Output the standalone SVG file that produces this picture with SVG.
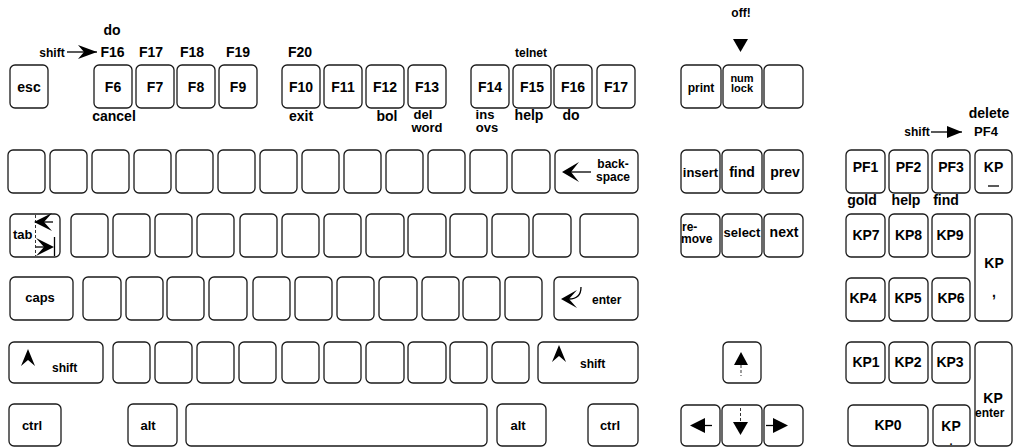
<svg xmlns="http://www.w3.org/2000/svg" width="1019" height="447" viewBox="0 0 1019 447">
<style>
.k{fill:#fff;stroke:#1a1a1a;stroke-width:1.3}
.t{font-family:"Liberation Sans",Arial,Helvetica,sans-serif;font-weight:bold;font-size:14px;fill:#000;text-anchor:middle}
.st{text-anchor:start}
.f11{font-size:11px}.f12{font-size:12px}.f13{font-size:13px}
.g{fill:#000;stroke:none}
.ln{stroke:#000;stroke-width:1.3;fill:none}
.dl{stroke:#000;stroke-width:0.8;fill:none;stroke-dasharray:3 2}
</style>
<defs>
<marker id="chev" markerUnits="userSpaceOnUse" markerWidth="20" markerHeight="14" refX="19" refY="7" orient="auto"><path d="M0,0 L19,7 L0,14 L6,7 Z" fill="#000"/></marker>
<marker id="tri" markerUnits="userSpaceOnUse" markerWidth="16" markerHeight="12" refX="15" refY="6" orient="auto"><path d="M0,0 L15,6 L0,12 Z" fill="#000"/></marker>
</defs>
<rect width="1019" height="447" fill="#fff"/>

<g id="connectors">
<line x1="67" y1="52" x2="97" y2="52" class="ln" stroke-width="1.6" marker-end="url(#chev)"/>
<polygon points="733,39 748,39 740.5,52" class="g"/>
<line x1="931" y1="132" x2="962" y2="132" class="ln" stroke-width="1" marker-end="url(#tri)"/>
</g>

<g id="annotations">
<text x="52" y="57" class="t f12">shift</text>
<text x="741" y="17" class="t f12">off!</text>
<text x="989" y="118" class="t">delete</text>
<text x="917" y="136" class="t f12">shift</text>
<text x="986" y="136" class="t f13">PF4</text>
</g>

<!-- Row 1 -->
<g id="k-esc"><rect class="k" x="10" y="65" width="38" height="43" rx="5"/><text x="29" y="92" class="t">esc</text></g>
<g id="k-f6"><rect class="k" x="94" y="65" width="38" height="43" rx="5"/><text x="113" y="92" class="t">F6</text><text x="112" y="35" class="t">do</text><text x="112.5" y="57" class="t">F16</text><text x="114" y="121" class="t">cancel</text></g>
<g id="k-f7"><rect class="k" x="136" y="65" width="38" height="43" rx="5"/><text x="155" y="92" class="t">F7</text><text x="151" y="57" class="t">F17</text></g>
<g id="k-f8"><rect class="k" x="177" y="65" width="38" height="43" rx="5"/><text x="196" y="92" class="t">F8</text><text x="192" y="57" class="t">F18</text></g>
<g id="k-f9"><rect class="k" x="219" y="65" width="38" height="43" rx="5"/><text x="238" y="92" class="t">F9</text><text x="238" y="57" class="t">F19</text></g>
<g id="k-f10"><rect class="k" x="282" y="65" width="38" height="43" rx="5"/><text x="301" y="92" class="t">F10</text><text x="300" y="57" class="t">F20</text><text x="301" y="121" class="t">exit</text></g>
<g id="k-f11"><rect class="k" x="324" y="65" width="38" height="43" rx="5"/><text x="343" y="92" class="t">F11</text></g>
<g id="k-f12"><rect class="k" x="366" y="65" width="38" height="43" rx="5"/><text x="385" y="92" class="t">F12</text><text x="387" y="121" class="t">bol</text></g>
<g id="k-f13"><rect class="k" x="408" y="65" width="38" height="43" rx="5"/><text x="423" y="119" class="t f13">del</text><text x="427" y="132" class="t f13">word</text><text x="427" y="92" class="t">F13</text></g>
<g id="k-f14"><rect class="k" x="471" y="65" width="38" height="43" rx="5"/><text x="490" y="92" class="t">F14</text><text x="485" y="119" class="t f13">ins</text><text x="487" y="132" class="t f13">ovs</text></g>
<g id="k-f15"><rect class="k" x="513" y="65" width="38" height="43" rx="5"/><text x="532" y="92" class="t">F15</text><text x="531" y="57" class="t f12">telnet</text><text x="529" y="120" class="t">help</text></g>
<g id="k-f16"><rect class="k" x="554" y="65" width="38" height="43" rx="5"/><text x="573" y="92" class="t">F16</text><text x="571" y="120" class="t">do</text></g>
<g id="k-f17"><rect class="k" x="597" y="65" width="38" height="43" rx="5"/><text x="616" y="92" class="t">F17</text></g>
<g id="k-print"><rect class="k" x="681" y="65" width="40" height="43" rx="5"/><text x="701" y="92" class="t f12">print</text></g>
<g id="k-numlock"><rect class="k" x="723" y="65" width="39" height="43" rx="5"/><text x="742" y="82" class="t f11">num</text><text x="742" y="92" class="t f11">lock</text></g>
<g id="k-blank1"><rect class="k" x="764" y="65" width="39" height="43" rx="5"/></g>

<!-- Row 2 -->
<g id="k-r2-1"><rect class="k" x="8" y="150" width="37" height="43" rx="5"/></g>
<g id="k-r2-2"><rect class="k" x="50" y="150" width="37" height="43" rx="5"/></g>
<g id="k-r2-3"><rect class="k" x="92" y="150" width="37" height="43" rx="5"/></g>
<g id="k-r2-4"><rect class="k" x="134" y="150" width="37" height="43" rx="5"/></g>
<g id="k-r2-5"><rect class="k" x="176" y="150" width="37" height="43" rx="5"/></g>
<g id="k-r2-6"><rect class="k" x="218" y="150" width="37" height="43" rx="5"/></g>
<g id="k-r2-7"><rect class="k" x="260" y="150" width="37" height="43" rx="5"/></g>
<g id="k-r2-8"><rect class="k" x="302" y="150" width="37" height="43" rx="5"/></g>
<g id="k-r2-9"><rect class="k" x="344" y="150" width="37" height="43" rx="5"/></g>
<g id="k-r2-10"><rect class="k" x="386" y="150" width="37" height="43" rx="5"/></g>
<g id="k-r2-11"><rect class="k" x="428" y="150" width="37" height="43" rx="5"/></g>
<g id="k-r2-12"><rect class="k" x="470" y="150" width="37" height="43" rx="5"/></g>
<g id="k-r2-13"><rect class="k" x="512" y="150" width="38" height="43" rx="5"/></g>
<g id="k-backspace"><rect class="k" x="555" y="150" width="83" height="43" rx="5"/><line x1="568" y1="172" x2="591" y2="172" class="ln" stroke-width="1.6"/><path d="M562,172 L579,162 L571,172 L579,182 Z" class="g"/><text x="613" y="168" class="t f12">back-</text><text x="613" y="181" class="t f12">space</text></g>
<g id="k-insert"><rect class="k" x="681" y="150" width="39" height="43" rx="5"/><text x="700.5" y="177" class="t f13">insert</text></g>
<g id="k-find"><rect class="k" x="722" y="150" width="40" height="43" rx="5"/><text x="742" y="177" class="t">find</text></g>
<g id="k-prev"><rect class="k" x="764" y="150" width="39" height="43" rx="5"/><text x="785" y="177" class="t">prev</text></g>
<g id="k-pf1"><rect class="k" x="846" y="150" width="39" height="43" rx="5"/><text x="865.5" y="172" class="t">PF1</text><text x="862" y="205" class="t">gold</text></g>
<g id="k-pf2"><rect class="k" x="889" y="150" width="39" height="43" rx="5"/><text x="908.5" y="172" class="t">PF2</text><text x="906" y="205" class="t">help</text></g>
<g id="k-pf3"><rect class="k" x="932" y="150" width="38" height="43" rx="5"/><text x="951" y="172" class="t">PF3</text><text x="946" y="205" class="t">find</text></g>
<g id="k-kpminus"><rect class="k" x="975" y="150" width="37" height="43" rx="5"/><text x="993.5" y="172" class="t">KP</text><line x1="988" y1="186" x2="999" y2="186" class="ln" stroke-width="1.6"/></g>

<!-- Row 3 -->
<g id="k-tab"><rect class="k" x="10" y="214" width="50" height="43" rx="5"/><text x="13" y="239" class="t f13 st">tab</text><line x1="35.5" y1="215" x2="35.5" y2="256" class="dl"/><line x1="40" y1="222" x2="53" y2="222" class="ln"/><path d="M34,222 L52,213 L44,222 L52,231 Z" class="g"/><line x1="36" y1="247" x2="48" y2="247" class="ln"/><path d="M54,247 L36,238 L44,247 L36,256 Z" class="g"/><line x1="54.5" y1="237" x2="54.5" y2="256" class="ln" stroke-width="1"/></g>
<g id="k-r3-1"><rect class="k" x="71" y="214" width="37" height="43" rx="5"/></g>
<g id="k-r3-2"><rect class="k" x="113" y="214" width="37" height="43" rx="5"/></g>
<g id="k-r3-3"><rect class="k" x="155" y="214" width="37" height="43" rx="5"/></g>
<g id="k-r3-4"><rect class="k" x="197" y="214" width="37" height="43" rx="5"/></g>
<g id="k-r3-5"><rect class="k" x="240" y="214" width="37" height="43" rx="5"/></g>
<g id="k-r3-6"><rect class="k" x="282" y="214" width="37" height="43" rx="5"/></g>
<g id="k-r3-7"><rect class="k" x="324" y="214" width="37" height="43" rx="5"/></g>
<g id="k-r3-8"><rect class="k" x="366" y="214" width="38" height="43" rx="5"/></g>
<g id="k-r3-9"><rect class="k" x="408" y="214" width="38" height="43" rx="5"/></g>
<g id="k-r3-10"><rect class="k" x="450" y="214" width="37" height="43" rx="5"/></g>
<g id="k-r3-11"><rect class="k" x="492" y="214" width="37" height="43" rx="5"/></g>
<g id="k-r3-12"><rect class="k" x="533" y="214" width="38" height="43" rx="5"/></g>
<g id="k-r3-13"><rect class="k" x="580" y="214" width="58" height="43" rx="5"/></g>
<g id="k-remove"><rect class="k" x="681" y="214" width="39" height="43" rx="5"/><text x="682" y="231" class="t f12 st">re-</text><text x="681" y="243" class="t f12 st">move</text></g>
<g id="k-select"><rect class="k" x="722" y="214" width="40" height="43" rx="5"/><text x="742" y="237" class="t f13">select</text></g>
<g id="k-next"><rect class="k" x="764" y="214" width="39" height="43" rx="5"/><text x="784" y="237" class="t">next</text></g>
<g id="k-kp7"><rect class="k" x="846" y="214" width="39" height="43" rx="5"/><text x="866" y="240" class="t">KP7</text></g>
<g id="k-kp8"><rect class="k" x="889" y="214" width="39" height="43" rx="5"/><text x="908.5" y="240" class="t">KP8</text></g>
<g id="k-kp9"><rect class="k" x="932" y="214" width="38" height="43" rx="5"/><text x="950" y="240" class="t">KP9</text></g>
<g id="k-kpcomma"><rect class="k" x="975" y="214" width="37" height="107" rx="5"/><text x="994" y="268" class="t">KP</text><text x="994" y="297" class="t">,</text></g>

<!-- Row 4 -->
<g id="k-caps"><rect class="k" x="10" y="277" width="63" height="43" rx="5"/><text x="40" y="302" class="t f13">caps</text></g>
<g id="k-r4-1"><rect class="k" x="83" y="277" width="38" height="43" rx="5"/></g>
<g id="k-r4-2"><rect class="k" x="126" y="277" width="37" height="43" rx="5"/></g>
<g id="k-r4-3"><rect class="k" x="167" y="277" width="37" height="43" rx="5"/></g>
<g id="k-r4-4"><rect class="k" x="209" y="277" width="38" height="43" rx="5"/></g>
<g id="k-r4-5"><rect class="k" x="253" y="277" width="37" height="43" rx="5"/></g>
<g id="k-r4-6"><rect class="k" x="295" y="277" width="37" height="43" rx="5"/></g>
<g id="k-r4-7"><rect class="k" x="337" y="277" width="37" height="43" rx="5"/></g>
<g id="k-r4-8"><rect class="k" x="379" y="277" width="38" height="43" rx="5"/></g>
<g id="k-r4-9"><rect class="k" x="422" y="277" width="37" height="43" rx="5"/></g>
<g id="k-r4-10"><rect class="k" x="463" y="277" width="37" height="43" rx="5"/></g>
<g id="k-r4-11"><rect class="k" x="505" y="277" width="37" height="43" rx="5"/></g>
<g id="k-enter"><rect class="k" x="554" y="277" width="84" height="43" rx="5"/><path d="M561,299 L577,290 L569,299 L577,308 Z" class="g"/><path d="M569,299 C577,299 581,295 581,287" class="ln" stroke-width="1.4"/><text x="592" y="304" class="t f12 st">enter</text></g>
<g id="k-kp4"><rect class="k" x="846" y="278" width="39" height="43" rx="5"/><text x="863" y="303" class="t">KP4</text></g>
<g id="k-kp5"><rect class="k" x="889" y="278" width="39" height="43" rx="5"/><text x="908" y="303" class="t">KP5</text></g>
<g id="k-kp6"><rect class="k" x="932" y="278" width="38" height="43" rx="5"/><text x="951" y="303" class="t">KP6</text></g>

<!-- Row 5 -->
<g id="k-lshift"><rect class="k" x="9" y="342" width="94" height="41" rx="5"/><path d="M28,349 L35,366 L28,360 L21,366 Z" class="g"/><text x="52" y="372" class="t f12 st">shift</text></g>
<g id="k-r5-1"><rect class="k" x="113" y="342" width="37" height="41" rx="5"/></g>
<g id="k-r5-2"><rect class="k" x="155" y="342" width="37" height="41" rx="5"/></g>
<g id="k-r5-3"><rect class="k" x="197" y="342" width="37" height="41" rx="5"/></g>
<g id="k-r5-4"><rect class="k" x="239" y="342" width="37" height="41" rx="5"/></g>
<g id="k-r5-5"><rect class="k" x="282" y="342" width="37" height="41" rx="5"/></g>
<g id="k-r5-6"><rect class="k" x="324" y="342" width="37" height="41" rx="5"/></g>
<g id="k-r5-7"><rect class="k" x="366" y="342" width="38" height="41" rx="5"/></g>
<g id="k-r5-8"><rect class="k" x="408" y="342" width="38" height="41" rx="5"/></g>
<g id="k-r5-9"><rect class="k" x="450" y="342" width="37" height="41" rx="5"/></g>
<g id="k-r5-10"><rect class="k" x="492" y="342" width="37" height="41" rx="5"/></g>
<g id="k-rshift"><rect class="k" x="538" y="342" width="100" height="41" rx="5"/><path d="M559,345 L566,362 L559,356 L552,362 Z" class="g"/><text x="580" y="368" class="t f12 st">shift</text></g>
<g id="k-up"><rect class="k" x="723" y="342" width="38" height="41" rx="5"/><polygon points="741,352 748,365 734,365" class="g"/><line x1="741" y1="365" x2="741" y2="376" class="dl"/></g>
<g id="k-kp1"><rect class="k" x="846" y="342" width="39" height="41" rx="5"/><text x="866" y="367" class="t">KP1</text></g>
<g id="k-kp2"><rect class="k" x="889" y="342" width="39" height="41" rx="5"/><text x="908" y="367" class="t">KP2</text></g>
<g id="k-kp3"><rect class="k" x="932" y="342" width="38" height="41" rx="5"/><text x="950" y="367" class="t">KP3</text></g>
<g id="k-kpenter"><rect class="k" x="975" y="342" width="37" height="104" rx="5"/><text x="993" y="403" class="t">KP</text><text x="975" y="417" class="t f12 st">enter</text></g>

<!-- Row 6 -->
<g id="k-lctrl"><rect class="k" x="9" y="404" width="52" height="42" rx="5"/><text x="32" y="430" class="t f13">ctrl</text></g>
<g id="k-lalt"><rect class="k" x="128" y="404" width="49" height="42" rx="5"/><text x="148" y="430" class="t f13">alt</text></g>
<g id="k-space"><rect class="k" x="186" y="404" width="301" height="42" rx="5"/></g>
<g id="k-ralt"><rect class="k" x="497" y="404" width="49" height="42" rx="5"/><text x="518" y="430" class="t f13">alt</text></g>
<g id="k-rctrl"><rect class="k" x="588" y="404" width="50" height="42" rx="5"/><text x="610" y="430" class="t f13">ctrl</text></g>
<g id="k-left"><rect class="k" x="681" y="405" width="39" height="41" rx="5"/><polygon points="690,425.5 705,418 705,433" class="g"/><line x1="705" y1="425.5" x2="712" y2="425.5" class="ln" stroke-width="1"/></g>
<g id="k-down"><rect class="k" x="722" y="405" width="40" height="41" rx="5"/><polygon points="733,422 748,422 740.5,435" class="g"/><line x1="740.5" y1="408" x2="740.5" y2="422" class="dl"/></g>
<g id="k-right"><rect class="k" x="764" y="405" width="39" height="41" rx="5"/><polygon points="788,425.5 773,418 773,433" class="g"/><line x1="766" y1="425.5" x2="773" y2="425.5" class="ln" stroke-width="1"/></g>
<g id="k-kp0"><rect class="k" x="848" y="405" width="80" height="41" rx="5"/><text x="888" y="430" class="t">KP0</text></g>
<g id="k-kpdot"><rect class="k" x="933" y="405" width="37" height="41" rx="5"/><text x="951" y="431" class="t">KP</text><text x="951" y="445" class="t f11">.</text></g>
</svg>
